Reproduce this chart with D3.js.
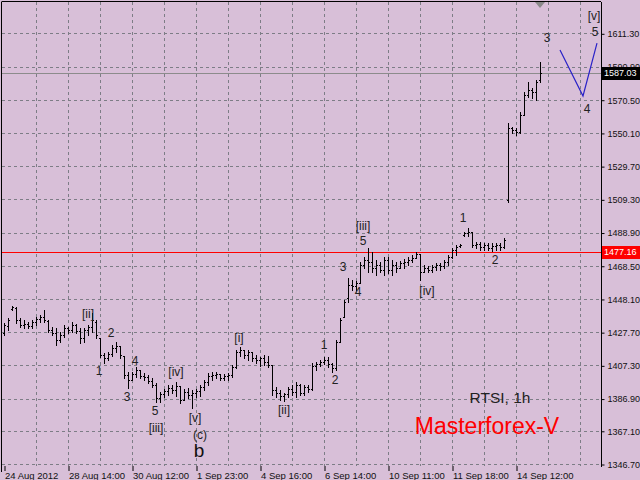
<!DOCTYPE html>
<html><head><meta charset="utf-8">
<script src="https://cdn.jsdelivr.net/npm/d3@7/dist/d3.min.js"></script>
<style>html,body{margin:0;padding:0;background:#D8BFD8;overflow:hidden}svg{display:block}</style>
</head><body>
<script>
// ---- data (RTSI, 1h) ----
const opens = [1427.2,1431.5,1441.9,1442.5,1435.2,1432.1,1432.7,1431.5,1433.9,1435.8,1437.0,1434.5,1429.0,1427.2,1422.9,1425.9,1430.2,1429.0,1432.1,1428.4,1424.1,1429.0,1430.8,1433.9,1424.1,1413.6,1411.8,1414.3,1418.0,1419.2,1413.0,1401.4,1398.3,1402.0,1404.4,1400.7,1400.1,1397.7,1395.2,1387.2,1389.7,1391.5,1393.4,1392.1,1394.6,1386.0,1390.9,1389.1,1390.3,1391.5,1394.0,1397.1,1400.7,1401.4,1402.0,1399.5,1400.7,1401.4,1406.3,1415.5,1416.7,1413.6,1415.5,1411.8,1410.6,1411.8,1409.3,1407.5,1392.1,1390.3,1388.5,1389.7,1392.8,1390.9,1395.2,1390.3,1394.0,1392.8,1406.9,1408.1,1409.3,1410.6,1408.1,1405.7,1421.6,1437.0,1448.7,1456.7,1456.0,1457.9,1468.9,1472.0,1470.8,1467.1,1468.9,1465.9,1472.0,1465.9,1468.9,1467.1,1470.2,1470.8,1472.0,1473.2,1475.7,1464.6,1467.1,1465.9,1467.7,1468.9,1468.3,1470.8,1473.9,1478.2,1480.6,1487.4,1488.6,1489.2,1481.2,1481.8,1480.0,1481.2,1479.4,1480.6,1481.2,1480.0,1508.9,1553.1,1551.9,1550.7,1561.1,1573.4,1576.5,1575.2,1582.6];
const highs = [1433.3,1436.4,1443.8,1443.1,1436.4,1435.2,1433.9,1435.2,1437.0,1438.2,1441.3,1435.2,1430.8,1430.2,1427.8,1432.1,1430.8,1433.9,1432.7,1430.2,1430.2,1432.1,1439.5,1435.2,1424.1,1414.9,1415.5,1419.8,1421.6,1419.2,1413.0,1403.2,1403.2,1406.3,1404.4,1402.6,1401.4,1399.5,1396.4,1390.9,1392.8,1395.2,1395.2,1397.1,1394.6,1392.8,1393.4,1392.1,1392.8,1395.2,1398.3,1402.6,1403.2,1403.2,1402.0,1402.0,1402.6,1407.5,1416.7,1418.6,1416.7,1416.7,1415.5,1413.6,1412.4,1413.6,1413.0,1407.5,1394.0,1392.1,1390.3,1394.0,1395.2,1397.1,1395.8,1395.2,1395.2,1408.7,1409.3,1410.6,1412.4,1412.4,1408.7,1422.9,1436.4,1447.4,1461.0,1459.7,1459.1,1470.8,1473.9,1479.4,1476.9,1472.0,1470.8,1473.9,1473.9,1472.0,1470.8,1471.4,1472.6,1473.9,1475.1,1476.9,1475.7,1468.9,1468.3,1468.9,1470.2,1470.2,1472.0,1475.1,1479.4,1481.2,1481.8,1489.2,1491.7,1489.2,1483.1,1483.1,1482.5,1482.5,1482.5,1482.5,1482.5,1485.5,1556.2,1553.7,1553.1,1562.9,1575.2,1581.4,1577.7,1582.6,1593.7];
const lows = [1425.9,1429.0,1441.3,1433.3,1430.8,1430.2,1430.2,1430.2,1432.1,1433.9,1433.9,1427.8,1425.9,1419.8,1421.6,1424.7,1427.2,1427.8,1427.2,1421.0,1421.6,1425.9,1427.8,1424.1,1412.4,1408.7,1410.6,1413.0,1415.5,1411.8,1399.5,1393.4,1398.3,1400.1,1399.5,1398.3,1396.4,1394.0,1384.8,1384.8,1387.8,1389.1,1390.3,1388.5,1384.2,1386.0,1387.2,1381.1,1387.8,1388.5,1392.1,1395.2,1398.3,1399.5,1398.3,1398.3,1398.3,1400.1,1405.7,1413.0,1411.8,1410.6,1410.0,1408.7,1406.9,1407.5,1406.3,1389.1,1387.8,1386.0,1385.4,1387.8,1389.1,1387.8,1389.1,1389.1,1390.9,1392.1,1404.4,1406.9,1408.1,1406.3,1403.2,1404.4,1421.6,1437.0,1446.2,1453.6,1453.6,1457.9,1467.1,1464.6,1464.6,1462.8,1464.6,1462.8,1464.0,1462.8,1464.6,1467.1,1467.1,1468.9,1470.8,1473.2,1459.7,1464.6,1464.6,1464.6,1465.9,1465.9,1467.1,1468.9,1473.2,1475.1,1480.0,1486.8,1486.8,1480.0,1479.4,1478.2,1478.2,1478.2,1477.5,1478.2,1478.2,1479.4,1507.7,1550.0,1548.8,1550.0,1561.1,1572.2,1571.5,1570.3,1581.4];
const closes = [1432.1,1435.2,1443.1,1435.2,1432.1,1432.7,1431.5,1433.9,1435.8,1437.0,1435.2,1429.0,1427.2,1422.9,1425.9,1430.2,1429.0,1432.1,1428.4,1424.1,1429.0,1430.8,1435.2,1425.9,1413.6,1411.8,1414.3,1418.0,1419.2,1413.6,1401.4,1398.3,1402.0,1404.4,1400.7,1400.1,1397.7,1395.2,1387.2,1389.7,1391.5,1393.4,1392.1,1394.6,1386.0,1390.9,1389.1,1390.3,1391.5,1394.0,1397.1,1400.7,1401.4,1402.0,1399.5,1400.7,1401.4,1406.3,1415.5,1416.7,1413.6,1415.5,1411.8,1410.6,1411.8,1409.3,1407.5,1392.1,1390.3,1388.5,1389.7,1392.8,1390.9,1395.2,1390.3,1394.0,1392.8,1406.9,1408.1,1409.3,1410.6,1408.1,1405.7,1421.6,1435.2,1446.2,1456.7,1456.0,1457.9,1468.9,1472.0,1470.8,1467.1,1468.9,1465.9,1472.0,1465.9,1468.9,1467.1,1470.2,1470.8,1472.0,1473.2,1475.7,1464.6,1467.1,1465.9,1467.7,1468.9,1468.3,1470.8,1473.9,1478.2,1480.0,1481.2,1488.6,1489.2,1481.2,1481.8,1480.0,1481.2,1479.4,1480.6,1481.2,1480.0,1484.3,1553.1,1551.9,1550.7,1561.1,1573.4,1576.5,1575.2,1581.4,1587.03];

const priceTicks = [1611.30,1590.90,1570.50,1550.10,1529.70,1509.30,1488.90,1468.50,1448.10,1427.70,1407.30,1386.90,1367.10,1346.70];
const timeTickBars = [0,16,32,48,64,80,96,112,128];
const timeTickLabels = ["24 Aug 2012","28 Aug 14:00","30 Aug 12:00","1 Sep 23:00","4 Sep 16:00","6 Sep 14:00","10 Sep 11:00","11 Sep 18:00","14 Sep 12:00"];

const supportLevel = 1477.16;
const bidLevel = 1587.03;

// Elliott wave labels: text, bar position, price position
const waveText  = ["[ii]","2","1","4","3","[iv]","5","[iii]","[v]","(c)","[i]","[ii]","1","2","3","4","5","[iii]","[iv]","1","2","3","4","5","[v]"];
const waveBar   = [21,26.75,23.75,32.75,30.75,43,37.75,38,47.75,49,58.75,70,80,82.75,84.75,88.5,89.75,89.75,105.75,114.75,122.75,135.75,145.75,147.75,147.5];
const wavePrice = [1438.8,1427.2,1403.8,1410.0,1387.8,1403.2,1379.2,1368.8,1374.9,1364.5,1424.1,1379.9,1419.8,1398.3,1467.7,1452.4,1483.7,1492.9,1453.0,1497.8,1472.0,1608.4,1564.8,1612.1,1621.9];
const bigLabel = {text:"b", bar:48.75, price:1354.7};

// projected path of waves 4-5
const projBar   = [139,144.75,148.25];
const projPrice = [1601.0,1572.8,1605.3];

// ---- drawing ----
const W = 640, H = 480;
const plotL = 2, plotR = 601, plotT = 2, plotB = 466;
const FONT = "'Liberation Sans', Arial, sans-serif";

const svg = d3.select("body").append("svg").attr("width", W).attr("height", H);
svg.append("rect").attr("width", W).attr("height", H).attr("fill", "#D8BFD8");

const x = d3.scaleLinear().domain([0, 149]).range([4, 600]);
const y = d3.scaleLinear().domain([1346.7, 1611.3]).range([464, 33.3]);
const px = v => Math.round(x(v)) + 0.5;
const py = v => Math.round(y(v)) + 0.5;

const plot = svg.append("g");
svg.append("clipPath").attr("id","clip").append("rect")
  .attr("x", plotL).attr("y", plotT).attr("width", plotR - plotL).attr("height", plotB - plotT);
const inner = plot.append("g").attr("clip-path","url(#clip)");

// grid
const gridColor = "#7d7d86";
inner.selectAll("line.hg").data(priceTicks).join("line")
  .attr("x1", plotL).attr("x2", plotR).attr("y1", d => py(d)).attr("y2", d => py(d))
  .attr("stroke", gridColor).attr("stroke-dasharray", "3,3").attr("shape-rendering","crispEdges");
const vGrid = d3.range(8, 149, 8);
inner.selectAll("line.vg").data(vGrid).join("line")
  .attr("x1", d => px(d)).attr("x2", d => px(d)).attr("y1", plotT).attr("y2", plotB)
  .attr("stroke", gridColor).attr("stroke-dasharray", "3,3").attr("shape-rendering","crispEdges");

// horizontal level lines
inner.append("line").attr("x1", plotL).attr("x2", plotR).attr("y1", py(bidLevel)).attr("y2", py(bidLevel))
  .attr("stroke", "#8c8c8c").attr("shape-rendering","crispEdges");
inner.append("line").attr("x1", plotL).attr("x2", plotR).attr("y1", py(supportLevel)).attr("y2", py(supportLevel))
  .attr("stroke", "#ff0000").attr("shape-rendering","crispEdges");

// OHLC bars
const bars = inner.append("g").attr("fill", "#000");
opens.forEach((o, i) => {
  const cx = Math.round(x(i));
  const yh = Math.round(y(highs[i])), yl = Math.round(y(lows[i]));
  bars.append("rect").attr("x", cx).attr("y", yh).attr("width", 1).attr("height", Math.max(1, yl - yh + 1));
  bars.append("rect").attr("x", cx - 1).attr("y", Math.round(y(o))).attr("width", 1).attr("height", 1);
  bars.append("rect").attr("x", cx + 1).attr("y", Math.round(y(closes[i]))).attr("width", 1).attr("height", 1);
});

// projection
inner.append("path")
  .attr("d", d3.line().x((d, i) => x(projBar[i])).y((d, i) => y(projPrice[i]))(projBar))
  .attr("fill", "none").attr("stroke", "#2a22c8").attr("stroke-width", 1.2);

// wave labels
inner.selectAll("text.w").data(waveText).join("text")
  .attr("x", (d, i) => x(waveBar[i])).attr("y", (d, i) => y(wavePrice[i]))
  .attr("text-anchor", "middle").attr("dominant-baseline", "central")
  .attr("font-family", FONT).attr("font-size", 12).attr("fill", "#222")
  .text(d => d);
inner.append("text").attr("x", x(bigLabel.bar)).attr("y", y(bigLabel.price))
  .attr("text-anchor", "middle").attr("dominant-baseline", "central")
  .attr("font-family", FONT).attr("font-size", 19).attr("fill", "#111").text(bigLabel.text);

// shift marker
const mx = x(opens.length - 1);
inner.append("path").attr("d", `M${mx-5},${plotT} L${mx+5},${plotT} L${mx},${plotT+6} Z`).attr("fill", "#8a8a8a");

// titles
inner.append("text").attr("x", 500).attr("y", 403).attr("text-anchor","middle")
  .attr("font-family", FONT).attr("font-size", 15.5).attr("fill", "#222").text("RTSI, 1h");
inner.append("text").attr("x", 487).attr("y", 434).attr("text-anchor","middle")
  .attr("font-family", FONT).attr("font-size", 23).attr("fill", "#ff0000").text("Masterforex-V");

// borders
svg.append("line").attr("x1", plotR + 0.5).attr("x2", plotR + 0.5).attr("y1", plotT).attr("y2", plotB + 1)
  .attr("stroke", "#000");
svg.append("line").attr("x1", plotL - 0.5).attr("x2", plotR).attr("y1", plotT - 0.5).attr("y2", plotT - 0.5)
  .attr("stroke", "#000");
svg.append("line").attr("x1", plotL - 0.5).attr("x2", plotL - 0.5).attr("y1", plotT).attr("y2", plotB + 6)
  .attr("stroke", "#000");

// y axis
const yAxis = d3.axisRight(y).tickValues(priceTicks).tickFormat(d3.format(".2f")).tickSize(3).tickPadding(3);
const gy = svg.append("g").attr("transform", `translate(${plotR + 0.5},0.5)`).call(yAxis);
gy.select(".domain").remove();
gy.selectAll("text").attr("font-family", FONT).attr("font-size", 9).attr("fill", "#111");
gy.selectAll("line").attr("stroke", "#000");

// x axis
const xAxis = d3.axisBottom(x).tickValues(timeTickBars).tickFormat((d, i) => timeTickLabels[i]).tickSize(5).tickPadding(1);
const gx = svg.append("g").attr("transform", `translate(0.5,${plotB})`).call(xAxis);
gx.select(".domain").remove();
gx.selectAll("text").attr("font-family", FONT).attr("font-size", 9.5).attr("fill", "#111")
  .attr("text-anchor", "start").attr("x", 0);
gx.selectAll("line").attr("stroke", "#000");

// price tags
function tag(price, bg, fg) {
  const g = svg.append("g");
  const cy = Math.round(y(price));
  g.append("rect").attr("x", plotR + 1).attr("y", cy - 6).attr("width", W - plotR).attr("height", 13).attr("fill", bg);
  g.append("text").attr("x", plotR + 3).attr("y", cy).attr("dominant-baseline","central")
    .attr("font-family", FONT).attr("font-size", 9).attr("fill", fg).text(d3.format(".2f")(price));
}
tag(bidLevel, "#000", "#fff");
tag(supportLevel, "#ff0000", "#fff");
</script>
</body></html>
